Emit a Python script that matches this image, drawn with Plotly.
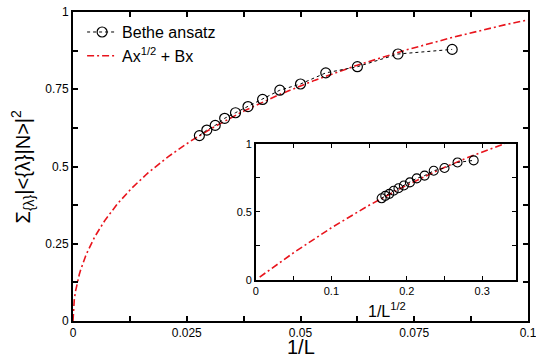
import numpy as np
import plotly.graph_objects as go

# Data: 1/L and summed overlap (Bethe ansatz)
L_values = [36, 34, 32, 30, 28, 26, 24, 22, 20, 18, 16, 14, 12]
overlap = [0.600, 0.618, 0.633, 0.656, 0.674, 0.694, 0.717, 0.747, 0.767, 0.803, 0.823, 0.864, 0.879]
# Fit y = A x^{1/2} + B x
A_fit = 4.176
B_fit = -3.455

inv_L = [1.0 / L for L in L_values]
inv_sqrtL = [1.0 / np.sqrt(L) for L in L_values]

x_fit = np.linspace(0, 0.11, 400)
y_fit = A_fit * np.sqrt(x_fit) + B_fit * x_fit
s_fit = np.linspace(0.005, 0.33, 300)
ys_fit = A_fit * s_fit + B_fit * s_fit ** 2

FONT = "Liberation Sans, Arial, sans-serif"
RED = "#e8141c"
DASH = "7px,3px,2px,3px"

fig = go.Figure()
fig.add_trace(go.Scatter(x=x_fit, y=y_fit, mode="lines", name="Ax<sup>1/2</sup> + Bx",
                         line=dict(color=RED, width=1.6, dash=DASH), legendrank=2))
fig.add_trace(go.Scatter(x=inv_L, y=overlap, mode="lines+markers", name="Bethe ansatz",
                         line=dict(color="black", width=1, dash="dot"),
                         marker=dict(symbol="circle-open", size=10, color="black", line=dict(width=1.2)),
                         legendrank=1))
# inset
fig.add_trace(go.Scatter(x=s_fit, y=ys_fit, mode="lines", showlegend=False,
                         line=dict(color=RED, width=1.6, dash=DASH), xaxis="x2", yaxis="y2"))
fig.add_trace(go.Scatter(x=inv_sqrtL, y=overlap, mode="lines+markers", showlegend=False,
                         line=dict(color="black", width=1, dash="dot"),
                         marker=dict(symbol="circle-open", size=9, color="black", line=dict(width=1.1)),
                         xaxis="x2", yaxis="y2"))

axis_common = dict(showgrid=False, zeroline=False, showline=True, linecolor="black",
                   mirror="ticks", ticks="inside", tickcolor="black", automargin=False,
                   ticklabeloverflow="allow")

fig.update_layout(
    width=536, height=355,
    margin=dict(l=73, r=8, t=12, b=34),
    paper_bgcolor="white", plot_bgcolor="white",
    font=dict(family=FONT, color="black"),
    showlegend=True,
    legend=dict(x=0.02, y=0.99, xanchor="left", yanchor="top", bgcolor="rgba(0,0,0,0)",
                font=dict(size=16, family=FONT), tracegroupgap=0, itemwidth=30),
    xaxis=dict(range=[0, 0.1], tickvals=[0, 0.025, 0.05, 0.075, 0.1],
               ticktext=["0", "0.025", "0.05", "0.075", "0.1"],
               ticklen=5, linewidth=2, tickwidth=1.5,
               minor=dict(dtick=0.0125, tick0=0, ticks="inside", ticklen=5, tickcolor="black", tickwidth=1.5),
               tickfont=dict(size=12), **axis_common),
    yaxis=dict(range=[0, 1], tickvals=[0, 0.25, 0.5, 0.75, 1],
               ticktext=["0", "0.25", "0.5", "0.75", "1"],
               ticklen=5, linewidth=2, tickwidth=1.5,
               minor=dict(dtick=0.125, tick0=0, ticks="inside", ticklen=5, tickcolor="black", tickwidth=1.5),
               tickfont=dict(size=12), **axis_common),
    xaxis2=dict(domain=[0.402, 0.974], anchor="y2", range=[0, 0.345],
                tickvals=[0, 0.1, 0.2, 0.3], ticktext=["0", "0.1", "0.2", "0.3"],
                ticklen=4, linewidth=1.5, tickwidth=1.2,
                minor=dict(dtick=0.05, tick0=0, ticks="inside", ticklen=4, tickcolor="black", tickwidth=1.2),
                tickfont=dict(size=11), **axis_common),
    yaxis2=dict(domain=[0.133, 0.573], anchor="x2", range=[0, 1],
                tickvals=[0, 0.5, 1], ticktext=["0", "0.5", "1"],
                ticklen=4, linewidth=1.5, tickwidth=1.2,
                minor=dict(dtick=0.25, tick0=0, ticks="inside", ticklen=4, tickcolor="black", tickwidth=1.2),
                tickfont=dict(size=11), **axis_common),
    shapes=[dict(type="rect", xref="paper", yref="paper", x0=0.402, x1=0.974, y0=0.133, y1=0.573,
                 fillcolor="white", line=dict(width=0), layer="below")],
    annotations=[
        dict(text="1/L", xref="paper", yref="paper", x=0.5, y=-0.085, xanchor="center", yanchor="middle",
             showarrow=False, font=dict(size=20, family=FONT)),
        dict(text="Σ<sub>{λ}</sub>|&lt;{λ}|N&gt;|<sup>2</sup>", xref="paper", yref="paper",
             x=-0.11, y=0.5, xanchor="center", yanchor="middle", textangle=-90,
             showarrow=False, font=dict(size=20, family=FONT)),
        dict(text="1/L<sup>1/2</sup>", xref="paper", yref="paper", x=0.69, y=0.035,
             xanchor="center", yanchor="middle",
             showarrow=False, font=dict(size=16, family=FONT)),
    ],
)

fig.write_html("out.html", config={"displayModeBar": False},
               post_script="document.body.style.margin='0';")
